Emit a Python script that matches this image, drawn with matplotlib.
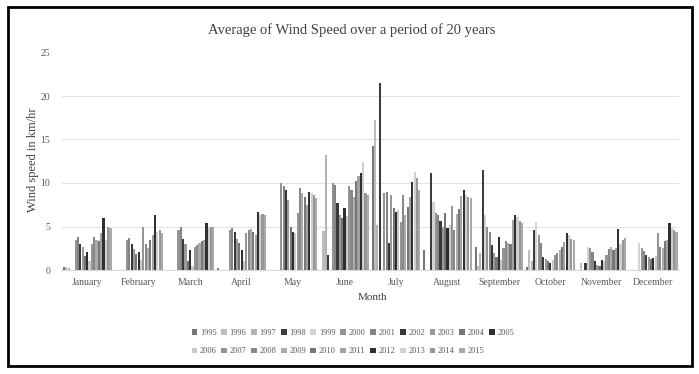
import matplotlib
matplotlib.use("Agg")
import matplotlib.pyplot as plt
from matplotlib.patches import Rectangle
import numpy as np

plt.rcParams['font.family'] = ['Liberation Serif', 'DejaVu Serif']

months = ["January", "February", "March", "April", "May", "June",
          "July", "August", "September", "October", "November", "December"]
years = [str(y) for y in range(1995, 2016)]

# Average wind speed (km/hr) per month; one list per month, one value per year 1995-2015
jan = [0.3, 0.3, 0.2, 0, 0, 3.4, 3.8, 3.0, 2.6, 1.6, 2.1, 1.0, 3.0, 3.8, 3.5, 3.3, 4.2, 6.0, 3.5, 5.0, 4.8]
feb = [0, 0, 0, 0, 0, 3.5, 3.7, 3.0, 2.4, 1.8, 2.1, 1.2, 4.9, 3.0, 2.5, 3.5, 4.0, 6.3, 4.4, 4.6, 4.3]
mar = [0, 0, 0, 0, 0, 4.6, 5.0, 3.6, 3.0, 1.0, 2.3, 0.5, 2.7, 2.9, 3.1, 3.3, 3.4, 5.4, 4.8, 5.0, 5.0]
apr = [0.2, 0, 0, 0, 0, 4.6, 4.8, 4.4, 3.6, 3.1, 2.3, 1.0, 4.2, 4.6, 4.7, 4.4, 4.0, 6.7, 6.3, 6.4, 6.3]
may = [0, 0, 0, 0, 0, 10.0, 9.6, 9.2, 8.0, 5.0, 4.4, 4.2, 6.5, 9.4, 8.8, 8.4, 7.5, 9.0, 8.8, 8.6, 8.3]
jun = [0, 4.5, 13.2, 1.7, 0, 10.0, 9.8, 7.7, 6.3, 6.0, 7.1, 6.2, 9.6, 9.2, 8.4, 10.2, 10.8, 11.1, 12.4, 8.8, 8.6]
jul = [14.2, 17.2, 5.2, 21.5, 0, 8.8, 9.0, 3.1, 8.6, 7.1, 6.7, 6.9, 5.5, 8.6, 6.3, 7.2, 8.4, 10.1, 11.3, 10.6, 9.2]
aug = [2.3, 0, 0, 11.1, 7.8, 6.5, 6.3, 5.6, 5.0, 6.5, 4.8, 5.2, 7.3, 4.6, 6.4, 7.0, 8.5, 9.2, 8.6, 8.4, 8.3]
sep = [2.6, 0.5, 2.0, 11.5, 6.3, 5.0, 4.4, 2.9, 2.0, 1.5, 3.8, 1.2, 2.5, 3.3, 3.1, 3.0, 5.8, 6.3, 6.1, 5.6, 5.4]
oct_ = [0.3, 2.3, 1.0, 4.6, 5.5, 4.0, 3.1, 1.5, 1.3, 1.0, 0.8, 1.1, 1.7, 2.0, 2.3, 2.6, 3.2, 4.3, 4.0, 3.6, 3.4]
nov = [0, 0.8, 0, 0.8, 2.7, 2.5, 2.1, 1.0, 0.6, 0.5, 1.2, 1.0, 1.7, 2.4, 2.7, 2.3, 2.5, 4.7, 3.0, 3.5, 3.7]
dec = [0, 0, 0, 0, 3.1, 2.5, 2.2, 1.7, 1.5, 1.3, 1.4, 1.6, 4.3, 2.6, 2.5, 3.3, 3.5, 5.4, 4.8, 4.6, 4.4]

speeds = np.array([jan, feb, mar, apr, may, jun, jul, aug, sep, oct_, nov, dec])

# grey shade for each year's series
shades = ["#767676", "#bdbdbd", "#b3b3b3", "#3c3c3c", "#d3d3d3", "#939393", "#848484",
          "#383838", "#9a9a9a", "#747474", "#2e2e2e", "#c9c9c9", "#959595", "#888888",
          "#ababab", "#777777", "#a2a2a2", "#303030", "#cfcfcf", "#979797", "#a9a9a9"]

W, H = 699, 374
fig = plt.figure(figsize=(W / 100, H / 100), dpi=100)
fig.patch.set_facecolor("white")

ax = fig.add_axes([61.5 / W, (H - 270) / H, (679 - 61.5) / W, (270 - 52.5) / H])

x = np.arange(len(months))
n = len(years)
group = 0.95
slot = group / n
handles = []
for k in range(n):
    pos = x - group / 2 + (k + 0.5) * slot
    b = ax.bar(pos, speeds[:, k], width=slot * 0.92, color=shades[k],
               linewidth=0, label=years[k], zorder=3)
    handles.append(b)

ax.set_xlim(-0.5, len(months) - 0.5)
ax.set_ylim(0, 25)
ax.set_yticks([0, 5, 10, 15, 20, 25])
ax.set_xticks(x)
ax.set_xticklabels(months)
ax.tick_params(axis="both", length=0, labelsize=7, colors="#595959")
ax.tick_params(axis="y", pad=8)
ax.tick_params(axis="x", pad=6)
ax.grid(axis="y", color="#e3e3e3", linewidth=0.8, zorder=0)
for s in ["top", "right", "left"]:
    ax.spines[s].set_visible(False)
ax.spines["bottom"].set_color("#d9d9d9")
ax.spines["bottom"].set_linewidth(0.8)

fig.text(352 / W, 1 - 30 / H, "Average of Wind Speed over a period of 20 years",
         ha="center", va="center", fontsize=10.5, color="#404040")
fig.text(33 / W, 1 - 160 / H, "Wind speed in km/hr", rotation=90,
         ha="center", va="center", fontsize=9, color="#404040")
fig.text(372 / W, 1 - 298 / H, "Month", ha="center", va="center",
         fontsize=8, color="#404040")

# two-row legend, years in reading order
order = []
for j in range(10):
    order += [j, j + 11]
order.append(10)
fig.legend([handles[i] for i in order], [years[i] for i in order],
           loc="center", bbox_to_anchor=(353 / W, 1 - 342 / H), ncol=11,
           frameon=False, fontsize=6, handlelength=0.7, handleheight=0.7,
           handletextpad=0.3, columnspacing=0.55, labelspacing=1.3,
           labelcolor="#595959")

fig.add_artist(Rectangle((8 / W, 1 - 366 / H), (692 - 8) / W, (366 - 7) / H,
                         transform=fig.transFigure, fill=False,
                         edgecolor="black", linewidth=2))

fig.savefig("out.png", dpi=100, facecolor="white")
